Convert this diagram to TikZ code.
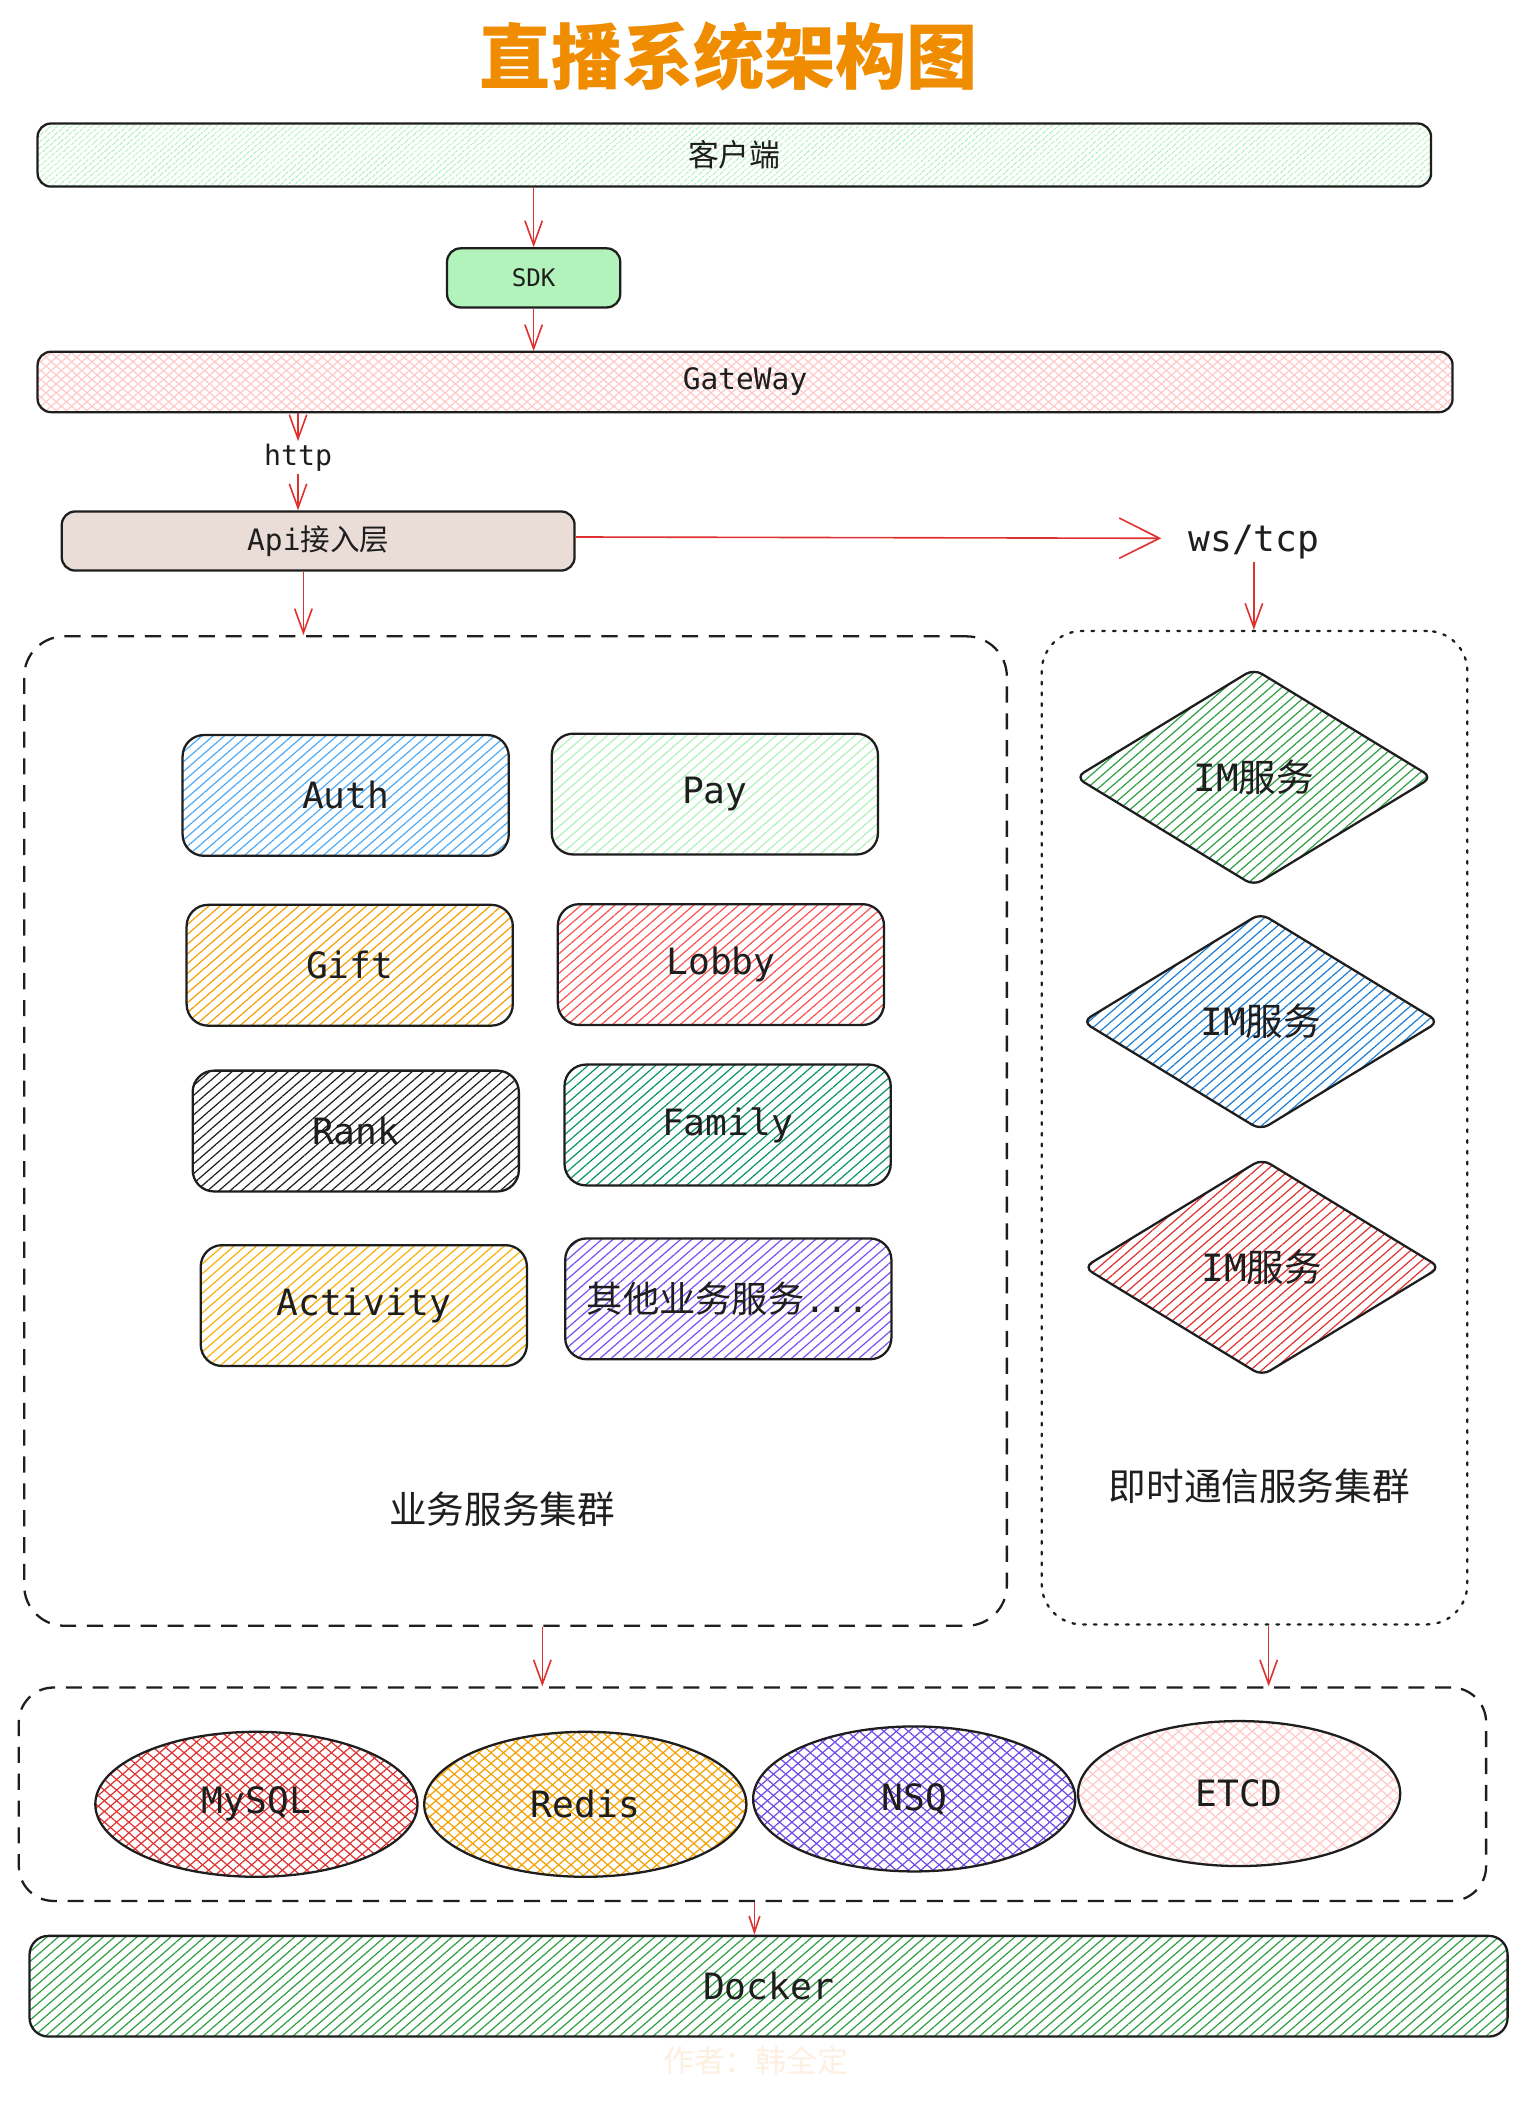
\documentclass[tikz,border=0pt]{standalone}
\usepackage{fontspec}
\setmainfont{DejaVu Sans Mono}
\newfontfamily\cjk{Noto Sans CJK SC}
\usetikzlibrary{shapes.geometric}
\usetikzlibrary{arrows.meta}
\usetikzlibrary{patterns.meta}
\usepackage{xcolor}

% 颜色
\definecolor{ink}{HTML}{1E1E1E}
\definecolor{arrowred}{HTML}{E03131}
\definecolor{titleorange}{HTML}{F08C00}
\definecolor{mark}{HTML}{FDF0E1}
\definecolor{lgreen}{HTML}{B2F2BB}
\definecolor{lpink}{HTML}{FFC9C9}
\definecolor{lbrown}{HTML}{EADDD7}
\definecolor{cblue}{HTML}{4DABF7}
\definecolor{corange}{HTML}{F59F00}
\definecolor{cred}{HTML}{FA5252}
\definecolor{cteal}{HTML}{099268}
\definecolor{cyellow}{HTML}{FAB005}
\definecolor{cviolet}{HTML}{7950F2}
\definecolor{dgreen}{HTML}{2F9E44}
\definecolor{dblue}{HTML}{1C7ED6}
\definecolor{dred}{HTML}{E03131}
\definecolor{dviolet}{HTML}{7048E8}

\begin{document}
\begin{tikzpicture}[x=1pt, y=-1pt]
        % ================= 样式定义 =================
        \tikzset{
            % 节点:黑色描边,圆角
            box/.style={draw=ink, line width=1.7pt, rounded corners=10pt, inner sep=0pt, text=ink},
            % 单向斜线填充
            hatch/.style 2 args={pattern={Lines[angle=41, distance=#2, line width=0.9pt]}, pattern color=#1},
            % 交叉斜线填充(反向斜线先画,描边最后画)
            xhatch/.style 2 args={hatch={#1}{#2},
                preaction={pattern={Lines[angle=-41, distance=#2, line width=0.9pt]}, pattern color=#1}},
            % 业务服务方块
            svc/.style={box, rounded corners=16pt, minimum width=243pt, minimum height=90pt,
                font=\fontsize{27}{30}\selectfont},
            % IM 服务菱形
            imsvc/.style={box, diamond, rounded corners=7pt, minimum width=266pt, minimum height=162pt,
                font=\fontsize{28}{30}\selectfont},
            % 存储椭圆
            store/.style={box, ellipse, minimum width=240pt, minimum height=108pt,
                font=\fontsize{27}{30}\selectfont},
            % 虚线容器
            group/.style={draw=ink, line width=1.7pt, rounded corners=30pt, inner sep=0pt},
            % 红色箭头
            flow/.style={draw=arrowred, line width=1.2pt, -{Straight Barb[length=18pt, width=13pt, line width=1.2pt]}},
            label/.style={text=ink, inner sep=2pt}
        }

        \fill[white] (0,0) rectangle (1138,1568);
        \useasboundingbox (0,0) rectangle (1138,1568);

        % ================= 1. 标题 =================
        \node[text=titleorange, font=\cjk\bfseries\fontsize{53}{56}\selectfont] (title) at (543,42) {直播系统架构图};

        % ================= 2. 接入链路 =================
        \node[box, hatch={lgreen}{4pt}, minimum width=1038pt, minimum height=47pt,
              font=\cjk\fontsize{23}{26}\selectfont] (client) at (547,115.5) {客户端};
        \node[box, fill=lgreen, minimum width=129pt, minimum height=44pt,
              font=\fontsize{18}{20}\selectfont] (sdk) at (397.5,207) {SDK};
        \node[box, xhatch={lpink}{5pt}, minimum width=1054pt, minimum height=45pt,
              font=\fontsize{22}{24}\selectfont] (gw) at (555,284.5) {GateWay};
        \node[label, font=\fontsize{21}{23}\selectfont] (http) at (222,341) {http};
        \node[box, fill=lbrown, minimum width=382pt, minimum height=44pt,
              font=\fontsize{22}{24}\selectfont] (api) at (237,403) {Api{\cjk 接入层}};
        \node[label, font=\fontsize{27}{30}\selectfont] (wstcp) at (934,404) {ws/tcp};

        \draw[flow] (sdk.north |- client.south) -- (sdk.north);
        \draw[flow] (sdk.south) -- (sdk.south |- gw.north);
        \draw[flow] (http.north |- gw.south) -- (http.north);
        \draw[flow] (http.south) -- (http.south |- api.north);
        \draw[flow, -{Straight Barb[length=30pt, width=30pt, line width=1.2pt]}, shorten >=18pt]
            ([yshift=3pt]api.east) -- ([yshift=3pt]wstcp.west);

        % ================= 3. 业务服务集群 =================
        \node[group, dash pattern=on 12pt off 8pt, minimum width=732pt, minimum height=737pt] (biz) at (384,842.5) {};

        \node[svc, hatch={cblue}{5.5pt}]   (auth)     at (257.5,592.5) {Auth};
        \node[svc, hatch={lgreen}{5.5pt}]  (pay)      at (532.5,591.5) {Pay};
        \node[svc, hatch={corange}{5.5pt}] (gift)     at (260.5,719)   {Gift};
        \node[svc, hatch={cred}{5.5pt}]    (lobby)    at (537,718.5)   {Lobby};
        \node[svc, hatch={ink}{5.5pt}]     (rank)     at (265,842.5)   {Rank};
        \node[svc, hatch={cteal}{5.5pt}]   (family)   at (542,838)     {Family};
        \node[svc, hatch={cyellow}{5.5pt}] (activity) at (271,972.5)   {Activity};
        \node[svc, hatch={cviolet}{5.5pt}] (other)    at (542.5,967.5) {{\cjk 其他业务服务}...};

        \node[label, font=\cjk\fontsize{28}{30}\selectfont] (bizlabel) at (374,1124) {业务服务集群};

        \draw[flow] ([xshift=-11pt]api.south) -- ([xshift=-11pt]api.south |- biz.north);

        % ================= 4. 即时通信服务集群 =================
        \node[group, dash pattern=on 2pt off 6pt, line cap=round, minimum width=317pt, minimum height=740pt] (im) at (934.5,840) {};

        \node[imsvc, hatch={dgreen}{5.5pt}] (im1) at (934,579) {IM{\cjk 服务}};
        \node[imsvc, hatch={dblue}{5.5pt}]  (im2) at (939,761) {IM{\cjk 服务}};
        \node[imsvc, hatch={dred}{5.5pt}]   (im3) at (940,944) {IM{\cjk 服务}};

        \node[label, font=\cjk\fontsize{28}{30}\selectfont] (imlabel) at (938,1107) {即时通信服务集群};

        \draw[flow] (wstcp.south) -- (wstcp.south |- im.north);

        % ================= 5. 存储层 =================
        \node[group, rounded corners=26pt, dash pattern=on 12pt off 8pt, minimum width=1093pt, minimum height=159pt] (base) at (560.5,1336.5) {};

        \node[store, xhatch={dred}{6pt}]    (mysql) at (191,1344) {MySQL};
        \node[store, xhatch={corange}{6pt}] (redis) at (436,1344) {Redis};
        \node[store, xhatch={dviolet}{6pt}] (nsq)   at (681,1340) {NSQ};
        \node[store, xhatch={lpink}{6pt}]   (etcd)  at (923,1336) {ETCD};

        \draw[flow] ([xshift=20pt]biz.south) -- ([xshift=20pt]biz.south |- base.north);
        \draw[flow] ([xshift=10.5pt]im.south) -- ([xshift=10.5pt]im.south |- base.north);

        % ================= 6. Docker =================
        \node[box, rounded corners=14pt, hatch={dgreen}{5.5pt}, minimum width=1101pt, minimum height=75pt,
              font=\fontsize{27}{30}\selectfont] (docker) at (572.5,1479.5) {Docker};

        \draw[flow, -{Straight Barb[length=12pt, width=8pt, line width=1.2pt]}] ([xshift=1.5pt]base.south) -- ([xshift=1.5pt]base.south |- docker.north);

        % 水印
        \node[text=mark, font=\cjk\fontsize{23}{26}\selectfont] (author) at (563,1535) {作者：韩全定};

    \end{tikzpicture}
\end{document}
